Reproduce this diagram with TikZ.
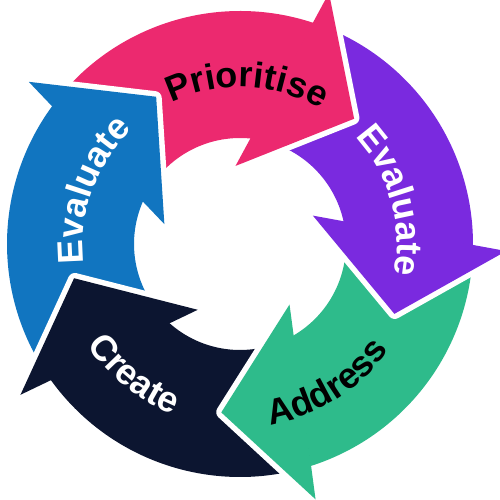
\documentclass[tikz,border=0pt]{standalone}
\usepackage{fontspec}
\setmainfont{Liberation Sans}
\usetikzlibrary{decorations.text}
\definecolor{prioritisepink}{HTML}{EC296F}
\definecolor{evaluatepurple}{HTML}{7A2ADF}
\definecolor{addressgreen}{HTML}{2EBB8B}
\definecolor{createnavy}{HTML}{0C1530}
\definecolor{evaluateblue}{HTML}{1175C0}
\newcommand{\ringfont}{\fontsize{36}{36}\selectfont\bfseries}
\begin{document}
\begin{tikzpicture}[x=1pt,y=1pt,
  headgap/.style={draw=white,line width=14pt,line join=round},
  headfill/.style={fill=#1,draw=#1,line width=3pt,line join=miter},
  ringtext/.style={decorate,decoration={text along path,text align=center,text={#1}}}]
\useasboundingbox (-240,-256) rectangle (260,244);
\fill[prioritisepink] (143.6:233) arc[start angle=143.6,end angle=71.6,radius=233] -- (83.7:106) arc[start angle=83.7,end angle=155.7,radius=106] -- cycle;
\fill[evaluatepurple] (71.6:233) arc[start angle=71.6,end angle=-0.4,radius=233] -- (11.7:106) arc[start angle=11.7,end angle=83.7,radius=106] -- cycle;
\fill[addressgreen] (-0.4:233) arc[start angle=-0.4,end angle=-72.4,radius=233] -- (-60.3:106) arc[start angle=-60.3,end angle=11.7,radius=106] -- cycle;
\fill[createnavy] (-72.4:233) arc[start angle=-72.4,end angle=-144.4,radius=233] -- (-132.3:106) arc[start angle=-132.3,end angle=-60.3,radius=106] -- cycle;
\fill[evaluateblue] (215.6:233) arc[start angle=215.6,end angle=143.6,radius=233] -- (155.7:106) arc[start angle=155.7,end angle=227.7,radius=106] -- cycle;
\draw[headgap] (70.3:262) -- (48.3:169) -- (90.85:81);
\path[headfill=prioritisepink] (70.3:262) -- (48.3:169) -- (90.85:81) -- cycle;
\draw[headgap] (-1.7:262) -- (-23.7:169) -- (18.85:81);
\path[headfill=evaluatepurple] (-1.7:262) -- (-23.7:169) -- (18.85:81) -- cycle;
\draw[headgap] (-73.7:262) -- (-95.7:169) -- (-53.15:81);
\path[headfill=addressgreen] (-73.7:262) -- (-95.7:169) -- (-53.15:81) -- cycle;
\draw[headgap] (-145.7:262) -- (-167.7:169) -- (-125.15:81);
\path[headfill=createnavy] (-145.7:262) -- (-167.7:169) -- (-125.15:81) -- cycle;
\draw[headgap] (142.3:262) -- (120.3:169) -- (162.85:81);
\path[headfill=evaluateblue] (142.3:262) -- (120.3:169) -- (162.85:81) -- cycle;
\path[ringtext={|\ringfont\color{black}|Prioritise}] (137.5:157) arc[start angle=137.5,end angle=37.5,radius=157];
\path[ringtext={|\ringfont\color{white}|Evaluate}] (66:157) arc[start angle=66,end angle=-34,radius=157];
\path[ringtext={|\ringfont\color{black}|Address}] (-103:183) arc[start angle=-103,end angle=-13,radius=183];
\path[ringtext={|\ringfont\color{white}|Create}] (186:183) arc[start angle=186,end angle=276,radius=183];
\path[ringtext={|\ringfont\color{white}|Evaluate}] (210:157) arc[start angle=210,end angle=110,radius=157];
\end{tikzpicture}
\end{document}
